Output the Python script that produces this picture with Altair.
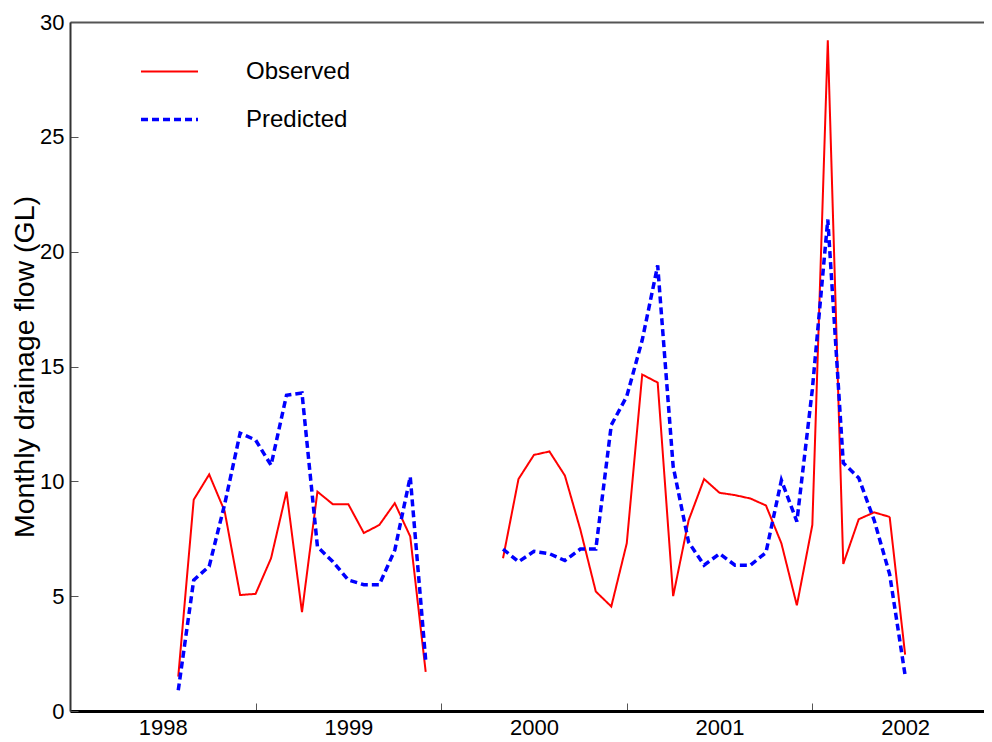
import altair as alt
import pandas as pd

# ---- data ----
series_names = ["Observed", "Predicted"]
year_labels = [1998, 1999, 2000, 2001, 2002]
y_ticks = [0, 5, 10, 15, 20, 25, 30]

# months counted from January 1998 (0 = Jan 1998)
months_1 = list(range(7, 24))    # Aug 1998 .. Dec 1999
months_2 = list(range(28, 55))   # May 2000 .. Jul 2002

observed_1 = [1.5, 9.2, 10.3, 8.7, 5.05, 5.1, 6.65, 9.55, 4.3, 9.55,
              9.0, 9.0, 7.75, 8.1, 9.05, 7.6, 1.7]
predicted_1 = [0.9, 5.7, 6.3, 9.0, 12.1, 11.8, 10.7, 13.75, 13.85, 7.15,
               6.5, 5.7, 5.5, 5.5, 7.0, 10.2, 2.2]

observed_2 = [6.65, 10.1, 11.15, 11.3, 10.25, 7.9, 5.2, 4.55, 7.3, 14.65,
              14.3, 5.0, 8.3, 10.1, 9.5, 9.4, 9.25, 8.95, 7.3, 4.6,
              8.1, 29.2, 6.4, 8.35, 8.65, 8.45, 2.45]
predicted_2 = [7.05, 6.5, 6.95, 6.85, 6.55, 7.05, 7.05, 12.45, 13.7, 16.15,
               19.4, 10.65, 7.35, 6.35, 6.85, 6.35, 6.35, 6.9, 10.05, 8.25,
               14.0, 21.4, 10.8, 10.15, 8.3, 5.95, 1.55]

rows = []
for seg, months, obs, pred in [(1, months_1, observed_1, predicted_1),
                               (2, months_2, observed_2, predicted_2)]:
    for m, o, p in zip(months, obs, pred):
        rows.append({"month": m, "flow": o, "series": "Observed", "segment": seg})
        rows.append({"month": m, "flow": p, "series": "Predicted", "segment": seg})
df = pd.DataFrame(rows)

# ---- layout / style ----
W, H = 914, 689
D = 59.1                     # months shown on the x scale
tshift = 6 * W / D           # half a year in pixels
label_months = [(y - year_labels[0]) * 12 + 6 for y in year_labels]
FONT = "Liberation Sans"

xscale = alt.Scale(domain=[0, D], nice=False, zero=False)
yscale = alt.Scale(domain=[0, 30], nice=False, zero=True)

color = alt.Color("series:N", title=None,
                  scale=alt.Scale(domain=series_names, range=["#ff0000", "#0000ff"]))
dash = alt.StrokeDash("series:N", title=None,
                      scale=alt.Scale(domain=series_names, range=[[1, 0], [7, 4]]))
width_enc = alt.StrokeWidth("series:N", title=None,
                            scale=alt.Scale(domain=series_names, range=[2, 3.5]))

yaxis = alt.Axis(orient="left", values=y_ticks, format="d", grid=False,
                 tickSize={"expr": "-8"}, tickColor="#555", tickWidth=1,
                 labelPadding=14, labelFontSize=22, labelColor="black", labelFont=FONT,
                 domainColor="#333", domainWidth=2,
                 titleFontSize=28.5, titleFontWeight="normal", titleColor="black",
                 titleFont=FONT, titlePadding=0)

xaxis_bottom = alt.Axis(orient="bottom", values=label_months, grid=False, title=None,
                        labelExpr="toString(%d + floor(datum.value / 12))" % year_labels[0],
                        tickOffset=tshift, labelOffset=-tshift,
                        tickSize={"expr": "-8"}, tickColor="#555", tickWidth=1,
                        labelPadding=14, labelFontSize=22, labelColor="black", labelFont=FONT,
                        labelFlush=False, labelOverlap=False,
                        domainColor="black", domainWidth=3)

xaxis_top = alt.Axis(orient="top", grid=False, title=None, ticks=False, labels=False,
                     domain=True, domainColor="#555", domainWidth=2)

ytitle = "Monthly drainage flow (GL)"

observed = alt.Chart(df).mark_line().transform_filter(
    alt.datum.series == "Observed"
).encode(
    x=alt.X("month:Q", scale=xscale, axis=xaxis_bottom),
    y=alt.Y("flow:Q", scale=yscale, axis=yaxis, title=ytitle),
    color=color, strokeDash=dash, strokeWidth=width_enc,
    detail="segment:N",
)

predicted = alt.Chart(df).mark_line().transform_filter(
    alt.datum.series == "Predicted"
).encode(
    x=alt.X("month:Q", scale=xscale, axis=xaxis_top),
    y=alt.Y("flow:Q", scale=yscale, axis=yaxis, title=ytitle),
    color=color, strokeDash=dash, strokeWidth=width_enc,
    detail="segment:N",
)

chart = alt.layer(observed, predicted).resolve_axis(x="independent").properties(
    width=W, height=H,
    autosize=alt.AutoSizeParams(type="none"),
    padding={"left": 62, "top": 14, "right": 0, "bottom": 30},
).configure(font=FONT).configure_view(
    stroke="transparent"
).configure_legend(
    orient="none", legendX=69, legendY=20,
    symbolType="stroke", symbolSize=3249,
    labelFontSize=24, labelColor="black", labelFont=FONT, labelOffset=46,
    padding=0, rowPadding=5,
)

chart.save("out.html", embed_options={"renderer": "svg", "actions": False})
